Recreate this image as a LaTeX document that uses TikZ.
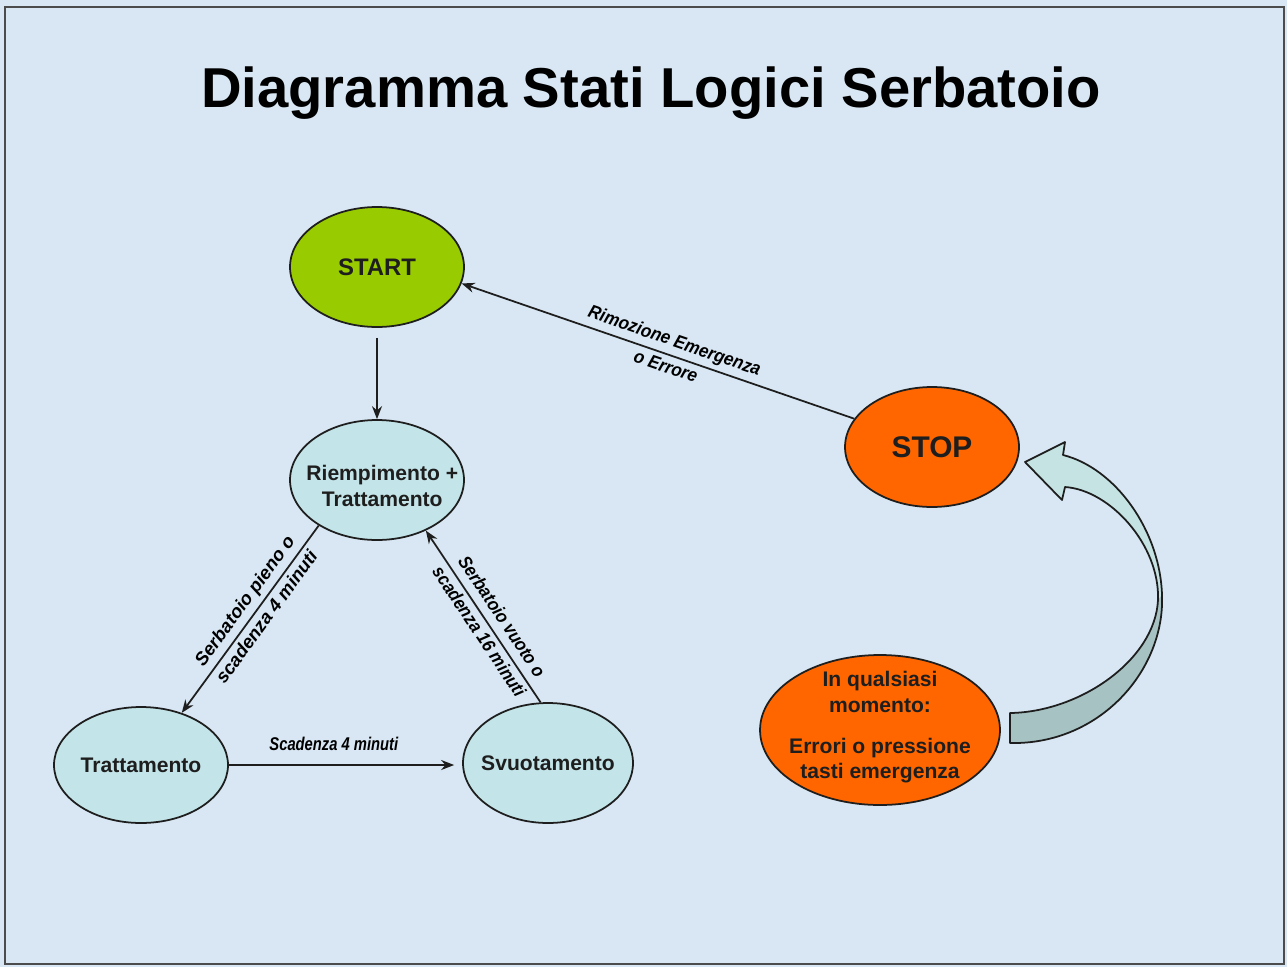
\documentclass[tikz,border=0pt]{standalone}
\usepackage{fontspec}
\setmainfont{Liberation Sans}
\usepackage{graphicx}
\usetikzlibrary{shapes.geometric,arrows.meta}
\definecolor{bg}{HTML}{D8E7F3}
\definecolor{startgreen}{HTML}{99CC00}
\definecolor{cyanfill}{HTML}{C3E4E8}
\definecolor{orangefill}{HTML}{FF6600}
\definecolor{cup}{HTML}{C5E3E3}
\definecolor{cdown}{HTML}{A6C2C2}
\definecolor{ink}{HTML}{1E1E1E}
\newcommand{\lbl}[2]{\scalebox{#1}[1]{\begin{tabular}{@{}c@{}}#2\end{tabular}}}
\begin{document}
\begin{tikzpicture}[x=0.02cm,y=-0.02cm,
  state/.style={ellipse,draw=ink,line width=1pt,inner sep=0pt},
  stxt/.style={align=center,text=ink,font=\fontsize{12}{14.5}\selectfont\bfseries},
  tr/.style={draw=ink,line width=1pt,-{Stealth[length=0.26cm,width=0.2cm]}},
  elab/.style={font=\fontsize{10.5}{12.5}\selectfont\bfseries\itshape,inner sep=1pt},
]
\useasboundingbox (0,0) rectangle (1287,967);
\fill[bg] (0,0) rectangle (1287,967);
\draw[gray!60!black,line width=1.5pt] (5,7) rectangle (1284,964);

\node[font=\fontsize{32}{38}\selectfont\bfseries,anchor=base] (title) at (651,107) {Diagramma Stati Logici Serbatoio};

\node[state,fill=startgreen,minimum width=3.48cm,minimum height=2.4cm,
  label={[stxt,font=\fontsize{13.6}{16}\selectfont\bfseries]center:START}] (start) at (377,267) {};
\node[state,fill=cyanfill,minimum width=3.48cm,minimum height=2.4cm,
  label={[stxt,xshift=3pt,yshift=-3.4pt]center:{Riempimento +\\Trattamento}}] (riemp) at (377,480) {};
\node[state,fill=cyanfill,minimum width=3.48cm,minimum height=2.32cm,
  label={[stxt]center:Trattamento}] (tratt) at (141,765) {};
\node[state,fill=cyanfill,minimum width=3.4cm,minimum height=2.4cm,
  label={[stxt]center:Svuotamento}] (svuot) at (548,763) {};
\node[state,fill=orangefill,minimum width=3.48cm,minimum height=2.4cm,
  label={[stxt,font=\fontsize{17}{20}\selectfont\bfseries]center:STOP}] (stop) at (932,447) {};
\node[state,fill=orangefill,minimum width=4.8cm,minimum height=3.0cm,
  label={[stxt,yshift=1.5pt]center:{In qualsiasi\\momento:\\[9pt]Errori o pressione\\tasti emergenza}}] (inq) at (880,730) {};

\draw[tr,shorten <=0.2cm] (start) -- (riemp);
\draw[tr] (stop.160) -- node[elab,sloped,pos=0.47]{\lbl{0.92}{Rimozione Emergenza\\[3pt]o Errore}} (start.-11);
\draw[tr] (riemp.218) -- node[elab,sloped,pos=0.45]{\lbl{1}{Serbatoio pieno o\\[3pt]scadenza 4 minuti}} (tratt.52);
\draw[tr] (svuot.97) -- node[elab,sloped,pos=0.45]{\lbl{0.9}{Serbatoio vuoto o\\[3pt]scadenza 16 minuti}} (riemp.-46);
\draw[tr,shorten >=0.16cm] (tratt.east) -- node[elab,above=3pt,pos=0.45]{\lbl{0.8}{Scadenza 4 minuti}} (tratt.east -| svuot.west);

% curved block arrow
\fill[cup] (1025,462) -- (1065,442) -- (1063,455) .. controls (1115,468) and (1160,530) .. (1162,595) -- (1158,600) .. controls (1160,545) and (1110,490) .. (1065,487) -- (1062,500) -- cycle;
\fill[cdown] (1162,595) .. controls (1165,670) and (1100,745) .. (1010,743) -- (1010,713) .. controls (1080,712) and (1155,660) .. (1158,600) -- cycle;
\draw[ink,line width=1pt,line join=round] (1025,462) -- (1065,442) -- (1063,455) .. controls (1115,468) and (1160,530) .. (1162,595) .. controls (1165,670) and (1100,745) .. (1010,743) -- (1010,713) .. controls (1080,712) and (1155,660) .. (1158,600) .. controls (1160,545) and (1110,490) .. (1065,487) -- (1062,500) -- cycle;
\end{tikzpicture}
\end{document}
